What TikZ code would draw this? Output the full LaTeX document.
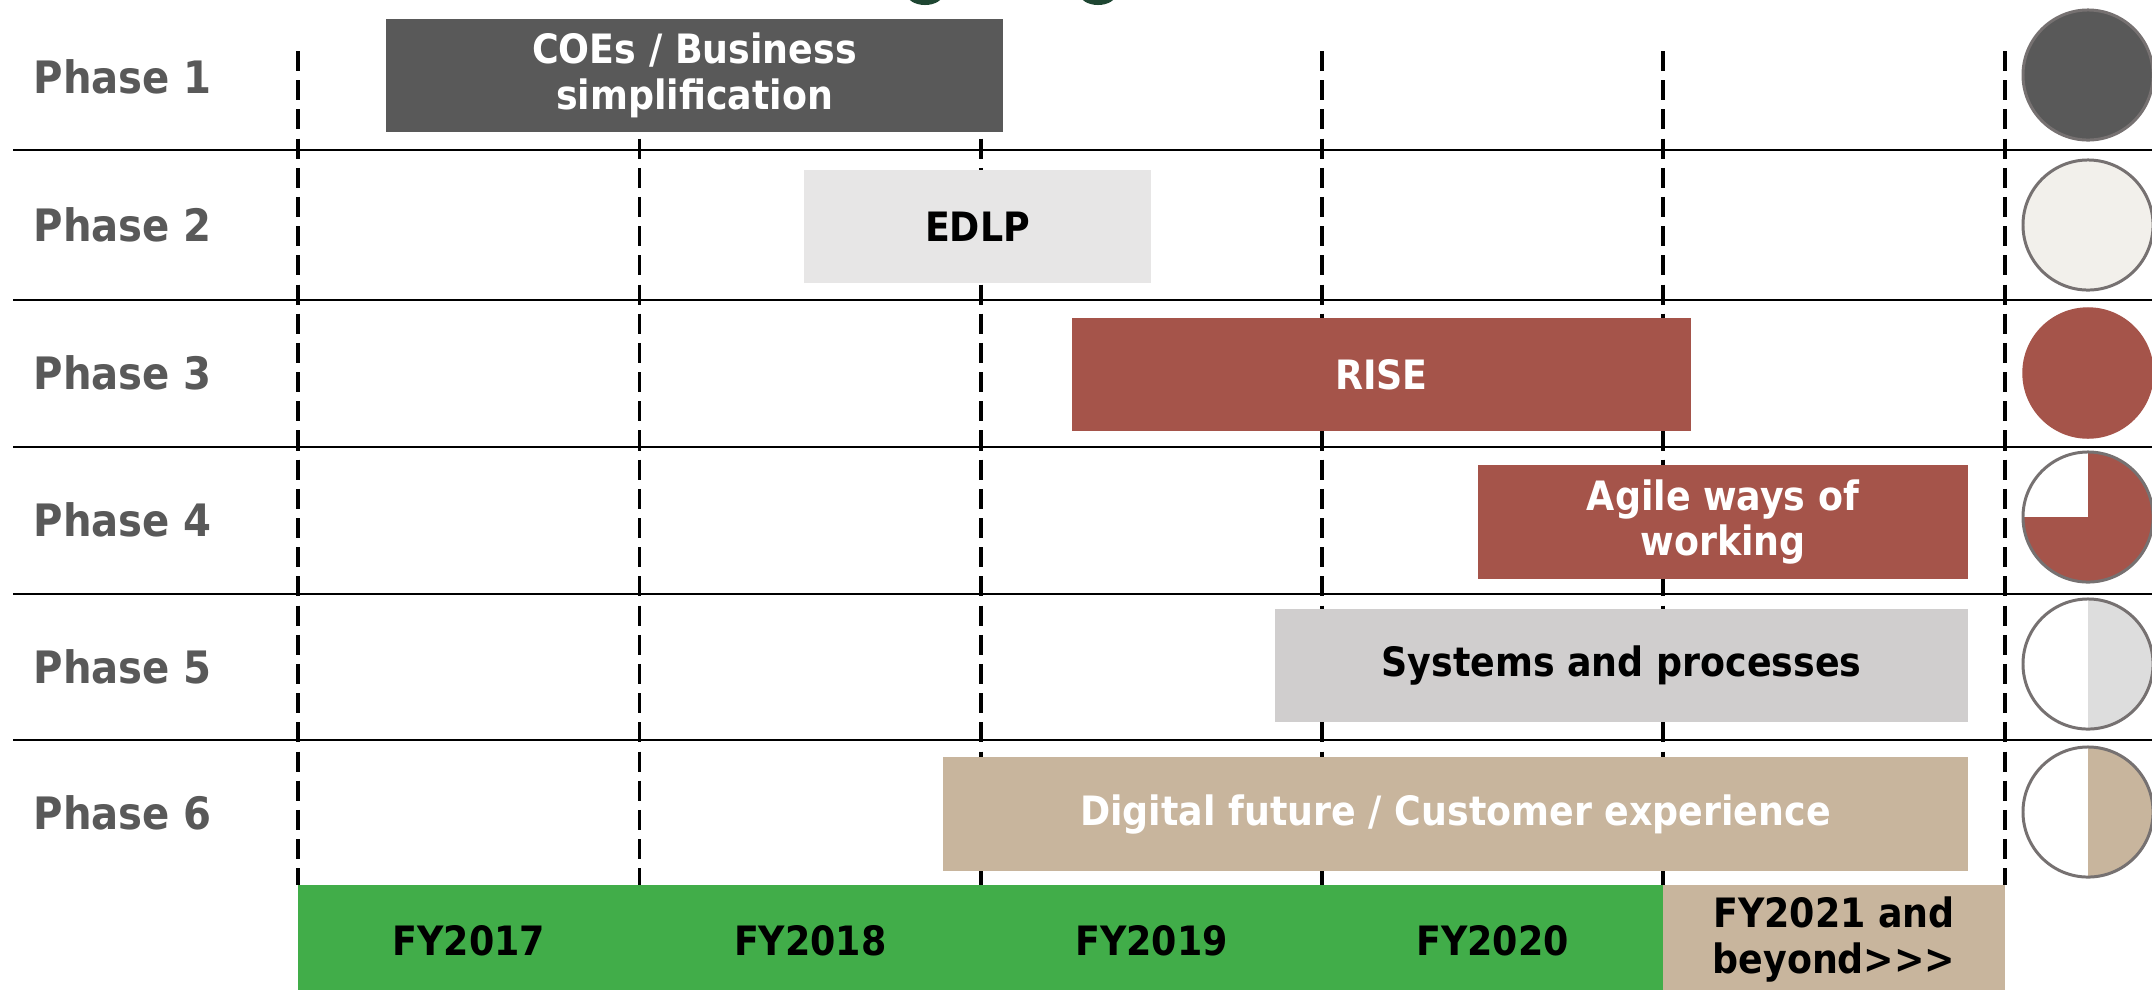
\documentclass[tikz,border=0pt]{standalone}
\usepackage{fontspec}
\setmainfont{DejaVu Sans Condensed}
\usetikzlibrary{positioning}

\definecolor{coegray}{HTML}{595959}
\definecolor{edlpgray}{HTML}{E7E6E6}
\definecolor{risered}{HTML}{A5544A}
\definecolor{sysgray}{HTML}{D0CECE}
\definecolor{digitan}{HTML}{C8B59D}
\definecolor{fygreen}{HTML}{41AD49}
\definecolor{ringgray}{HTML}{767171}
\definecolor{offwhite}{HTML}{F2F0EB}
\definecolor{halfgray}{HTML}{DDDDDD}
\definecolor{titlegreen}{HTML}{1E4632}

\begin{document}
\begin{tikzpicture}[x=0.01cm,y=-0.01cm,
    phase/.style={anchor=west,inner sep=0pt,text=coegray,font=\fontsize{12.7}{14}\selectfont\bfseries},
    bar/.style={inner sep=0pt,minimum height=1.13cm,align=center,font=\fontsize{11.5}{13}\selectfont\bfseries},
    fy/.style={inner sep=0pt,align=center,font=\fontsize{11.5}{13}\selectfont\bfseries},
    ring/.style={draw=ringgray,line width=0.85pt}]
    \useasboundingbox (0,0) rectangle (2152,990);
    % cut title
    \fill[titlegreen] (925,-6) ellipse[x radius=0.18cm,y radius=0.11cm];
    \fill[titlegreen] (1098,-6) ellipse[x radius=0.18cm,y radius=0.11cm];
    % grid
    \foreach \y in {150,300,447,594,740}
        \draw[line width=0.6pt] (13,\y) -- (2152,\y);
    \foreach \x in {298,639.5,981,1322,1663,2005}
        \draw[line width=0.9pt,dash pattern=on 5.7pt off 2.6pt] (\x,51) -- (\x,885);
    % phase labels
    \node[phase] (p1) at (33,77) {Phase 1};
    \node[phase] (p2) at (33,225) {Phase 2};
    \node[phase] (p3) at (33,373) {Phase 3};
    \node[phase] (p4) at (33,520) {Phase 4};
    \node[phase] (p5) at (33,667) {Phase 5};
    \node[phase] (p6) at (33,813) {Phase 6};
    % bars
    \node[bar,fill=coegray,text=white,minimum width=6.17cm] (coes) at (694.5,75.5) {COEs / Business\\simplification};
    \node[bar,fill=edlpgray,text=black,minimum width=3.47cm] (edlp) at (977.5,226.5) {EDLP};
    \node[bar,fill=risered,text=white,minimum width=6.19cm] (rise) at (1381.5,374.5) {RISE};
    \node[bar,fill=risered,text=white,minimum width=4.90cm] (agile) at (1723,522) {Agile ways of\\working};
    \node[bar,fill=sysgray,text=black,minimum width=6.93cm] (sys) at (1621.5,665.5) {Systems and processes};
    \node[bar,fill=digitan,text=white,minimum width=10.25cm] (digi) at (1455.5,814) {Digital future / Customer experience};
    % years
    \fill[fygreen] (298,885) rectangle (1663,990);
    \fill[digitan] (1663,885) rectangle (2005,990);
    \node[fy] (fy17) at (468.75,941) {FY2017};
    \node[fy] (fy18) at (810.25,941) {FY2018};
    \node[fy] (fy19) at (1151.5,941) {FY2019};
    \node[fy] (fy20) at (1492.5,941) {FY2020};
    \node[fy] (fy21) at (1834,939.5) {FY2021 and\\beyond>{}>{}>};
    % progress circles
    \filldraw[ring,fill=coegray] (2088,75) circle[radius=0.65cm];
    \filldraw[ring,fill=offwhite] (2088,225) circle[radius=0.65cm];
    \filldraw[draw=risered,fill=risered] (2088,373) circle[radius=0.65cm];
    \fill[white] (2088,517) circle[radius=0.65cm];
    \fill[risered] (2088,517) -- ++(180:0.65cm) arc[start angle=180,end angle=450,radius=0.65cm] -- cycle;
    \draw[ring] (2088,517) circle[radius=0.65cm];
    \fill[white] (2088,664) circle[radius=0.65cm];
    \fill[halfgray] (2088,664) -- ++(90:0.65cm) arc[start angle=90,end angle=-90,radius=0.65cm] -- cycle;
    \draw[ring] (2088,664) circle[radius=0.65cm];
    \fill[white] (2088,812) circle[radius=0.65cm];
    \fill[digitan] (2088,812) -- ++(90:0.65cm) arc[start angle=90,end angle=-90,radius=0.65cm] -- cycle;
    \draw[ring] (2088,812) circle[radius=0.65cm];
\end{tikzpicture}
\end{document}
